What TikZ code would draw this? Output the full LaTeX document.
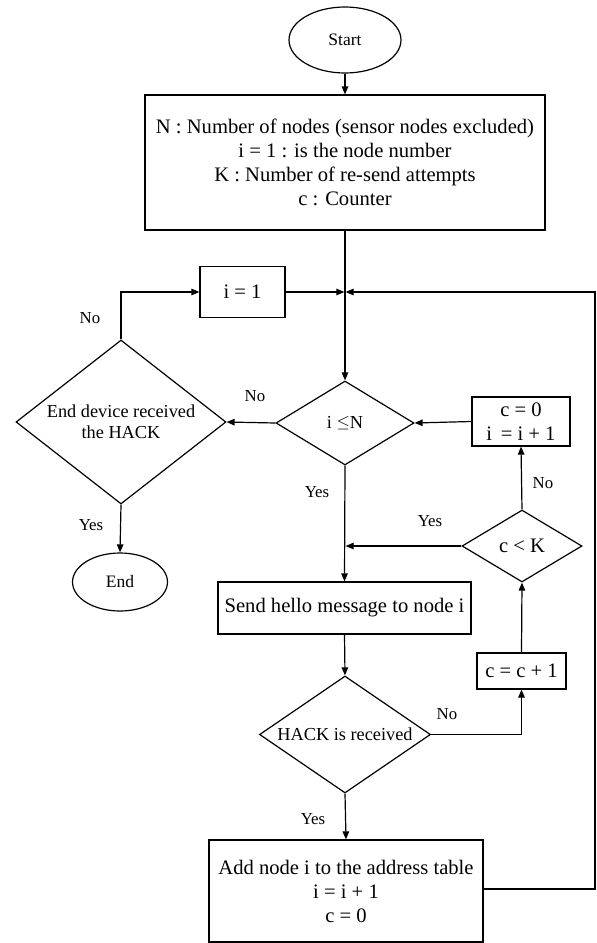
\documentclass[tikz,border=0pt]{standalone}
\usepackage{fontspec}
\setmainfont{Liberation Serif}
\usetikzlibrary{shapes.geometric,arrows.meta}
\begin{document}
\begin{tikzpicture}[x=1pt,y=-1pt,
  line width=1.2pt,
  arr/.style={-{Triangle[length=8pt,width=6.5pt]}},
  proc/.style={draw,rectangle,inner sep=0pt,align=center,font=\fontsize{20.6}{24}\selectfont},
  dec/.style={draw,diamond,inner sep=0pt,align=center,font=\fontsize{18.3}{21}\selectfont},
  term/.style={draw,ellipse,inner sep=0pt,font=\fontsize{17.5}{20}\selectfont},
  lbl/.style={font=\fontsize{16.8}{19}\selectfont,inner sep=0pt}]
\useasboundingbox (0,0) rectangle (597,943);
% nodes
\node[term,minimum width=112pt,minimum height=66pt] (start) at (345,40) {Start};
\node[proc,minimum width=400pt,minimum height=135pt] (init) at (345,162.5)
  {N : Number of nodes (sensor nodes excluded)\\ i = 1 : is the node number\\ K : Number of re-send attempts\\ c : Counter};
\node[proc,minimum width=85pt,minimum height=51pt] (ione) at (242.5,292) {i = 1};
\node[dec,aspect=1.64,minimum width=138pt,minimum height=84pt] (iN) at (345,423) {i \raisebox{1pt}{$\leq$}N};
\node[dec,aspect=1.28,minimum width=210pt,minimum height=164pt] (endd) at (121,422) {End device received\\the HACK};
\node[term,minimum width=95pt,minimum height=58pt] (end) at (120,582) {End};
\node[proc,minimum width=98pt,minimum height=49pt] (czero) at (521,421.5) {c = 0\\ i \,= i + 1};
\node[dec,aspect=1.67,minimum width=120pt,minimum height=72pt,font=\fontsize{20.6}{24}\selectfont] (cK) at (522,546) {c < K};
\node[proc,minimum width=253pt,minimum height=52pt] (send) at (344.5,608) {Send hello message to node i};
\node[proc,minimum width=89pt,minimum height=36pt] (cinc) at (521.5,671) {c = c + 1};
\node[dec,aspect=1.46,minimum width=171pt,minimum height=117pt] (hack) at (345,734.5) {HACK is received};
\node[proc,minimum width=274pt,minimum height=102pt] (add) at (346,891) {Add node i to the address table\\ i = i + 1\\ c = 0};
% coordinates
\coordinate (j1) at (345,292);
\coordinate (j2) at (345,546);
\coordinate (rt) at (595,292);
\coordinate (rb) at (595,889);
\coordinate (ul) at (121,292);
\coordinate (hr) at (521.5,734.5);
% connectors
\draw[arr] (start) -- (init);
\draw[arr] (init.south) -- (iN.north);
\draw[arr] (ione.east) -- ([xshift=-0.6pt]j1);
\draw[arr] (add.east |- rb) -- (rb) -- (rt) -- ([xshift=0.6pt]j1);
\draw[arr] (iN.west) -- (endd.east);
\draw[arr] (endd.north) -- (ul) -- (ione.west);
\draw[arr] (endd.south) -- (end.north);
\draw[arr] (iN.south) -- (send.north);
\draw[arr] (cK.west) -- ([xshift=0.6pt]j2);
\draw[arr] (cK.north) -- (czero.south);
\draw[arr] (czero.west) -- (iN.east);
\draw[arr] (cinc.north) -- (cK.south);
\draw[arr] (send.south) -- (hack.north);
\draw[arr] (hack.east) -- (hr) -- (cinc.south);
\draw[arr] (hack.south) -- (add.north);
% labels
\node[lbl] (l1) at (90,318) {No};
\node[lbl] (l2) at (255,396) {No};
\node[lbl] (l3) at (317,492) {Yes};
\node[lbl] (l4) at (91,525) {Yes};
\node[lbl] (l5) at (430,521) {Yes};
\node[lbl] (l6) at (543,483) {No};
\node[lbl] (l7) at (447,714) {No};
\node[lbl] (l8) at (313,819) {Yes};
\end{tikzpicture}
\end{document}
